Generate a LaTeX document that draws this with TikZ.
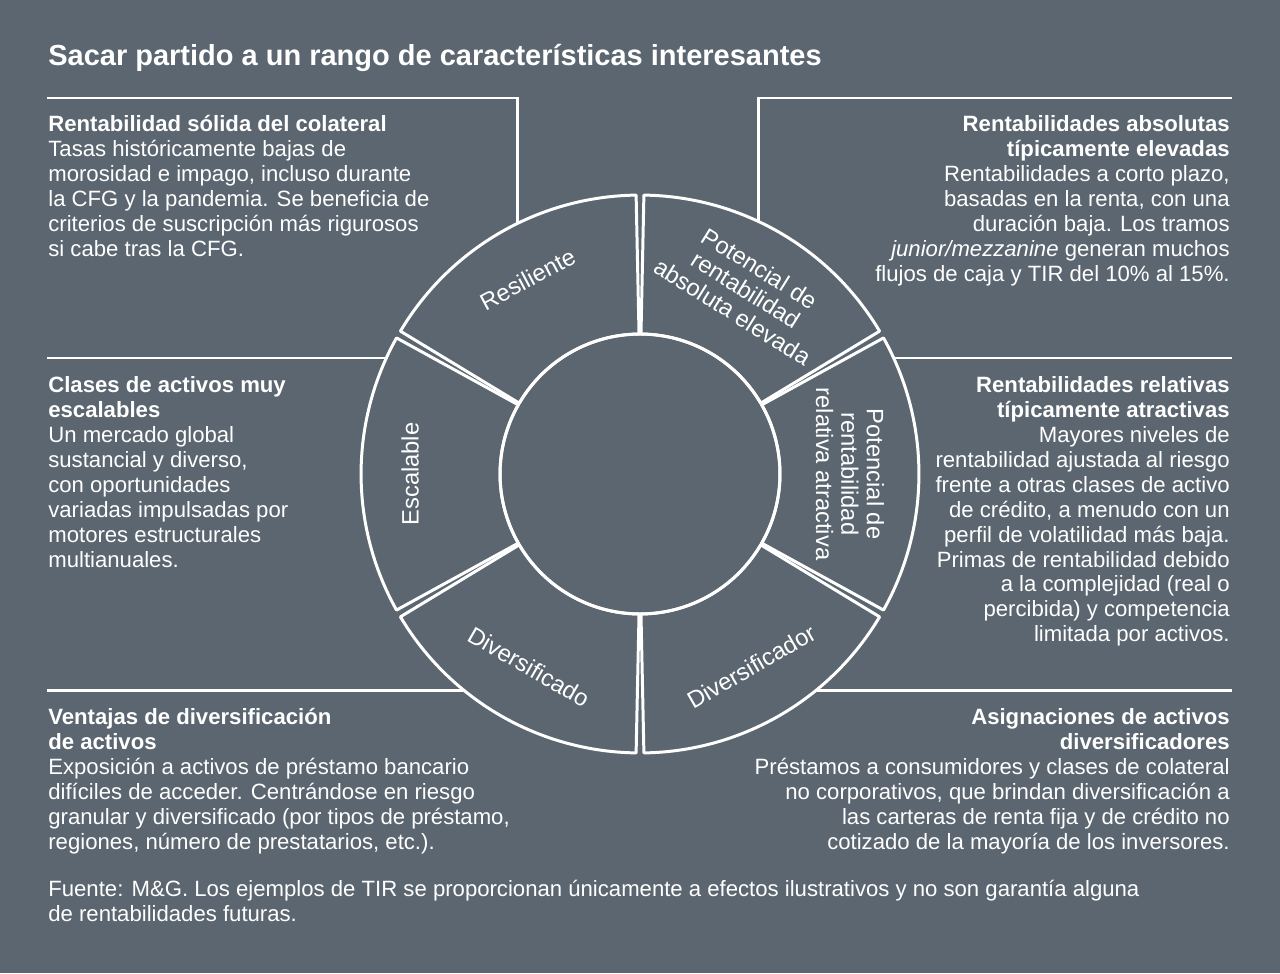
\documentclass[tikz,border=0pt]{standalone}
\usepackage{fontspec}
\setmainfont{Liberation Sans}
\usetikzlibrary{calc}
\definecolor{bgslate}{HTML}{5B6670}

\begin{document}
\begin{tikzpicture}[x=0.02cm,y=-0.02cm,
  body/.style={inner sep=0pt,text=white,font=\fontsize{12.6}{14.2}\selectfont},
  seglabel/.style={text=white,align=center,inner sep=1pt,font=\fontsize{13.5}{14.5}\selectfont},
  rule/.style={white,line width=1.7pt}]
\fill[bgslate] (0,0) rectangle (1280,973);
\useasboundingbox (0,0) rectangle (1280,973);

\node[body,anchor=north west,font=\fontsize{16.5}{18}\selectfont\bfseries] (title) at (48,44) {Sacar partido a un rango de características interesantes};

% bracket lines
\coordinate (c) at (640,474);
\draw[rule] (47,98) -- (517,98) -- (517,224);
\draw[rule] (1232,98) -- (758,98) -- (758,221);
\draw[rule] (47,358) -- (386,358);
\draw[rule] (1232,358) -- (894,358);
\draw[rule] (47,690) -- (463,690);
\draw[rule] (1232,690) -- (817,690);

% segments
\begin{scope}[shift={(c)},x=1cm,y=1cm]
\foreach \a in {0,60,120,180,240,300}{
  \filldraw[fill=bgslate,draw=white,line width=1.7pt,line join=round]
    (\a-29.6:2.8) -- (\a-29.2:5.58)
    arc[start angle=\a-29.2,end angle=\a+29.2,radius=5.58]
    -- (\a+29.6:2.8)
    arc[start angle=\a+29.6,end angle=\a-29.6,radius=2.8] -- cycle;
}
\draw[white,line width=1.7pt] (0,0) circle[radius=2.8];
\node[seglabel,rotate=28] (res) at (120:4.5) {Resiliente};
\node[seglabel,rotate=-32] (abs) at (60:4.25) {Potencial de\\rentabilidad\\absoluta elevada};
\node[seglabel,rotate=-90] (rel) at (0:4.2) {Potencial de\\rentabilidad\\relativa atractiva};
\node[seglabel,rotate=30] (dor) at (-60:4.45) {Diversificador};
\node[seglabel,rotate=-30] (dos) at (-120:4.45) {Diversificado};
\node[seglabel,rotate=90] (esc) at (180:4.6) {Escalable};
\end{scope}

% text blocks
\node[body,anchor=north west,align=left] (tl) at (48,115) {\textbf{Rentabilidad sólida del colateral}\\
Tasas históricamente bajas de\\morosidad e impago, incluso durante\\la CFG y la pandemia. Se beneficia de\\criterios de suscripción más rigurosos\\si cabe tras la CFG.};
\node[body,anchor=north east,align=right] (tr) at (1230,115) {\textbf{Rentabilidades absolutas}\\\textbf{típicamente elevadas}\\
Rentabilidades a corto plazo,\\basadas en la renta, con una\\duración baja. Los tramos\\\textit{junior/mezzanine} generan muchos\\flujos de caja y TIR del 10\% al 15\%.};
\node[body,anchor=north west,align=left] (ml) at (48,376) {\textbf{Clases de activos muy}\\\textbf{escalables}\\
Un mercado global\\sustancial y diverso,\\con oportunidades\\variadas impulsadas por\\motores estructurales\\multianuales.};
\node[body,anchor=north east,align=right] (mr) at (1230,376) {\textbf{Rentabilidades relativas}\\\textbf{típicamente atractivas}\\
Mayores niveles de\\rentabilidad ajustada al riesgo\\frente a otras clases de activo\\de crédito, a menudo con un\\perfil de volatilidad más baja.\\Primas de rentabilidad debido\\a la complejidad (real o\\percibida) y competencia\\limitada por activos.};
\node[body,anchor=north west,align=left] (bl) at (48,708) {\textbf{Ventajas de diversificación}\\\textbf{de activos}\\
Exposición a activos de préstamo bancario\\difíciles de acceder. Centrándose en riesgo\\granular y diversificado (por tipos de préstamo,\\regiones, número de prestatarios, etc.).};
\node[body,anchor=north east,align=right] (br) at (1230,708) {\textbf{Asignaciones de activos}\\\textbf{diversificadores}\\
Préstamos a consumidores y clases de colateral\\no corporativos, que brindan diversificación a\\las carteras de renta fija y de crédito no\\cotizado de la mayoría de los inversores.};
\node[body,anchor=north west,align=left] (src) at (48,880) {Fuente: M\&G. Los ejemplos de TIR se proporcionan únicamente a efectos ilustrativos y no son garantía alguna\\de rentabilidades futuras.};
\end{tikzpicture}
\end{document}
